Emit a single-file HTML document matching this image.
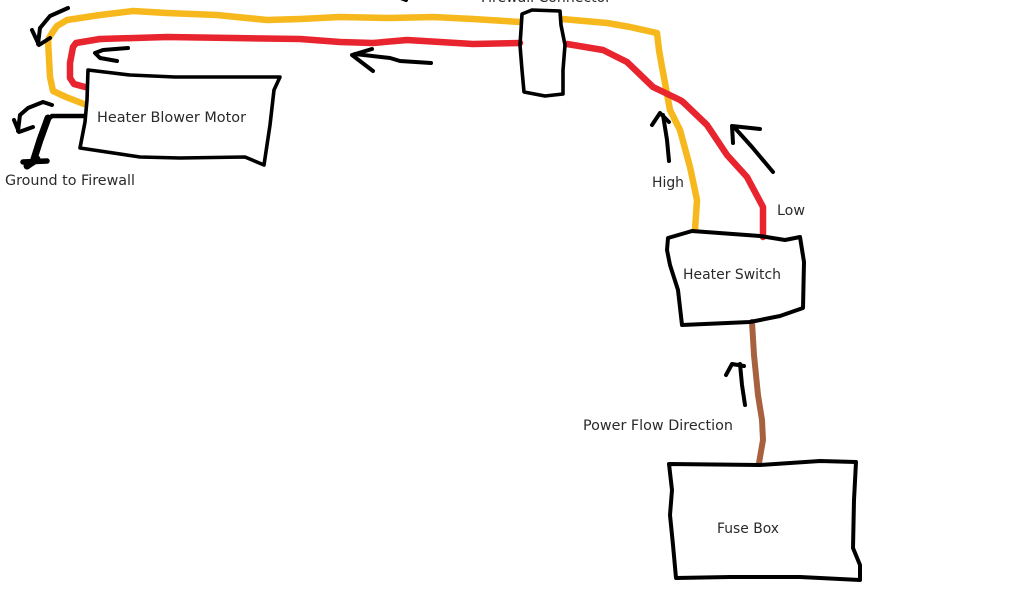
<!DOCTYPE html>
<html><head><meta charset="utf-8"><style>html,body{margin:0;padding:0;background:#fff;width:1024px;height:600px;overflow:hidden}svg{display:block}text{font-family:"DejaVu Sans",sans-serif;font-size:14.5px;fill:#2a2a2a}</style></head>
<body>
<svg width="1024" height="600" viewBox="0 0 1024 600" xmlns="http://www.w3.org/2000/svg">
<g fill="none" stroke-linejoin="round" stroke-linecap="round">
<!-- yellow -->
<path stroke="#f6b81c" stroke-width="6.5" d="M84 104L66 97L53 91L50 77L48 40L52 33L57 26L67 20L100 15L133 11L167 13L217 15L267 20L300 19L340 17L390 18L433 17L473 19L520 22M562 19L607 23L630 27L657 33L659 50L662 67L670 110L680 130L690 167L697 200L695 230"/>
<!-- red -->
<path stroke="#e8242e" stroke-width="6.5" d="M85 87L74 84L70 78L70 63L73 47L76 43L100 39L167 37L233 38L300 39L340 42L373 43L407 40L473 44L520 43M567 44L603 50L627 62L653 87L680 100L683 102L707 125L727 155L747 177L763 207L763 237"/>
<!-- brown -->
<path stroke="#a8613f" stroke-width="6" d="M752 322L754 355L758 395L762 420L763 440L759 463"/>
<!-- boxes -->
<g stroke="#000" stroke-width="3.6">
<path d="M88 70L130 75L175 77L280 77L274 90L270 125L264 165L245 157L180 158L140 157L80 148L85 122L87 100Z"/>
<path d="M522 14L532 10L560 11L561 25L565 45L563 70L563 94L545 96L524 92L522 70L520 45L521 30Z"/>
<path d="M668 238L692 231L760 236L785 240L800 237L804 262L803 308L780 316L750 322L682 325L678 290L670 265L667 250Z" stroke-width="4"/>
<path d="M669 464L760 465L820 461L856 462L854 500L853 548L860 565L860 580L800 577L730 577L676 578L673 545L670 515L672 490Z" stroke-width="4"/>
</g>
<!-- ground -->
<path stroke="#000" stroke-width="4.5" d="M84 116L52 116L47 120"/>
<path stroke="#000" stroke-width="7" d="M48 118L40 140L33 162"/>
<path stroke="#000" stroke-width="5.5" d="M23 162L47 161"/>
<path stroke="#000" stroke-width="7" d="M27 166L37 159"/>
<!-- arrows -->
<g stroke="#000" stroke-width="4">
<path d="M68 8L50 16L40 28L38 44M32 30L39 45L50 38"/>
<path d="M128 48L103 50L95 53L100 58L117 61"/>
<path d="M52 105L43 102L28 108L20 115L18 131M14 120L19 132L33 127"/>
<path d="M431 63L400 61L390 58L355 54M372 49L352 55L373 71"/>
<path d="M406 0L398 -3"/>
<path d="M669 161L667 140L663 115M652 125L660 113L669 122"/>
<path d="M773 172L752 147L734 127M733 143L732 126L760 129"/>
<path d="M745 405L742 385L740 364M726 375L732 364L744 366"/>
</g>
</g>
<text x="97" y="122" textLength="149" lengthAdjust="spacingAndGlyphs">Heater Blower Motor</text>
<text x="5" y="185" textLength="130" lengthAdjust="spacingAndGlyphs">Ground to Firewall</text>
<text x="481" y="2" textLength="130" lengthAdjust="spacingAndGlyphs">Firewall Connector</text>
<text x="652" y="187" textLength="32" lengthAdjust="spacingAndGlyphs">High</text>
<text x="777" y="215" textLength="28" lengthAdjust="spacingAndGlyphs">Low</text>
<text x="683" y="279" textLength="98" lengthAdjust="spacingAndGlyphs">Heater Switch</text>
<text x="583" y="430" textLength="150" lengthAdjust="spacingAndGlyphs">Power Flow Direction</text>
<text x="717" y="533" textLength="62" lengthAdjust="spacingAndGlyphs">Fuse Box</text>
</svg>
</body></html>
